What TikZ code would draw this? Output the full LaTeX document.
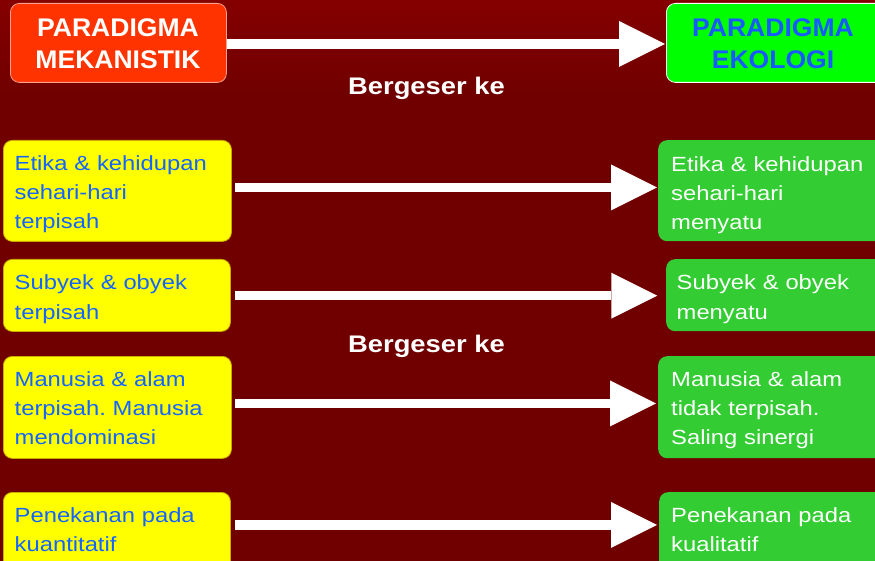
\documentclass[tikz,border=0pt]{standalone}
\usepackage{fontspec}
\setmainfont{Liberation Sans}
\newfontfamily\bodyfont[FakeStretch=1.16]{Liberation Sans}
\newfontfamily\titlefont[FakeStretch=1.04]{Liberation Sans}
\newfontfamily\shiftfont[FakeStretch=1.14]{Liberation Sans}
\usetikzlibrary{arrows.meta,calc}
\frenchspacing

\definecolor{bgtop}{RGB}{132,0,0}
\definecolor{bgmain}{RGB}{112,0,0}
\definecolor{mekred}{RGB}{255,51,0}
\definecolor{mekrim}{RGB}{255,160,140}
\definecolor{ekogreen}{RGB}{0,255,0}
\definecolor{ekoblue}{RGB}{25,90,255}
\definecolor{yfill}{RGB}{255,255,0}
\definecolor{yrim}{RGB}{200,170,0}
\definecolor{gfill}{RGB}{51,204,51}
\definecolor{txtblue}{RGB}{20,100,255}

\tikzset{
  box/.style={rectangle, rounded corners=9pt, inner sep=0pt, anchor=north west},
  leftbox/.style={box, fill=yfill, draw=yrim, line width=0.8pt},
  rightbox/.style={box, fill=gfill},
  lefttext/.style={anchor=base west, inner sep=0pt, text width=215pt, align=left,
    text=txtblue, font=\bodyfont\fontsize{20.5}{29}\selectfont},
  righttext/.style={lefttext, text=white},
  titletext/.style={anchor=base, inner sep=0pt, text width=200pt, align=center,
    font=\titlefont\bfseries\fontsize{25.5}{31.6}\selectfont},
  shifttext/.style={anchor=base, inner sep=0pt, text=white,
    font=\shiftfont\bfseries\fontsize{24}{28}\selectfont},
  bigarrow/.style={draw=white, line width=9.4pt,
    -{Triangle[length=46pt,width=46pt,line width=0pt]}}
}

\begin{document}
\begin{tikzpicture}[x={(1pt,0)}, y={(0,-1pt)}]
  \useasboundingbox (0,0) rectangle (875,561);
  \clip (0,0) rectangle (875,561);

  % background
  \fill[bgmain] (0,0) rectangle (875,561);
  \shade[top color=bgtop, bottom color=bgmain] (0,0) rectangle (875,95);

  % title boxes
  \node[box, fill=mekred, draw=mekrim, line width=0.8pt,
        minimum width=216pt, minimum height=79pt] (M) at (10,3) {};
  \node[box, fill=ekogreen, draw=white, line width=0.8pt,
        minimum width=222pt, minimum height=79pt] (E) at (666,3) {};
  \node[titletext, text=white] (Mt) at (118,36.7) {PARADIGMA\\MEKANISTIK};
  \node[titletext, text=ekoblue] (Et) at (773,36.5) {PARADIGMA\\EKOLOGI};

  % left column
  \node[leftbox, minimum width=228pt, minimum height=101pt] (L1) at (3,140) {};
  \node[leftbox, minimum width=227pt, minimum height=72pt]  (L2) at (3,259) {};
  \node[leftbox, minimum width=228pt, minimum height=102pt] (L3) at (3,356) {};
  \node[leftbox, minimum width=227pt, minimum height=80pt]  (L4) at (3,492) {};

  % right column
  \node[rightbox, minimum width=230pt, minimum height=101pt] (R1) at (658,140) {};
  \node[rightbox, minimum width=222pt, minimum height=72pt]  (R2) at (666,259) {};
  \node[rightbox, minimum width=230pt, minimum height=102pt] (R3) at (658,356) {};
  \node[rightbox, minimum width=230pt, minimum height=80pt]  (R4) at (659,492) {};

  % texts
  \node[lefttext] (L1t) at (14.5,171) {Etika \& kehidupan\\sehari-hari\\terpisah};
  \node[lefttext] (L2t) at (14.5,290) {Subyek \& obyek\\terpisah};
  \node[lefttext] (L3t) at (14.5,386.7) {Manusia \& alam\\terpisah. Manusia\\mendominasi};
  \node[lefttext] (L4t) at (14.5,522.7) {Penekanan pada\\kuantitatif};

  \node[righttext] (R1t) at (671,171.7) {Etika \& kehidupan\\sehari-hari\\menyatu};
  \node[righttext] (R2t) at (676.5,290) {Subyek \& obyek\\menyatu};
  \node[righttext] (R3t) at (671,386.7) {Manusia \& alam\\tidak terpisah.\\Saling sinergi};
  \node[righttext] (R4t) at (671,522.7) {Penekanan pada\\kualitatif};

  % shift labels
  \node[shifttext] (S1) at (426.5,95) {Bergeser ke};
  \node[shifttext] (S2) at (426.5,352) {Bergeser ke};

  % arrows
  \draw[bigarrow] ($(M.east)+(0,1)$) -- ($(M.east -| E.west)+(-1,1)$);
  \draw[bigarrow] ($(L1.east)+(3,-3.5)$) -- ($(L1.east -| R1.west)+(-1,-3.5)$);
  \draw[bigarrow] ($(L2.east)+(4,0.3)$) -- ($(L2.east -| R2.west)+(-8.7,0.3)$);
  \draw[bigarrow] ($(L3.east)+(3,-4)$) -- ($(L3.east -| R3.west)+(-2,-4)$);
  \draw[bigarrow] ($(L4.east)+(4,-7.5)$) -- ($(L4.east -| R4.west)+(-2,-7.5)$);
\end{tikzpicture}
\end{document}
